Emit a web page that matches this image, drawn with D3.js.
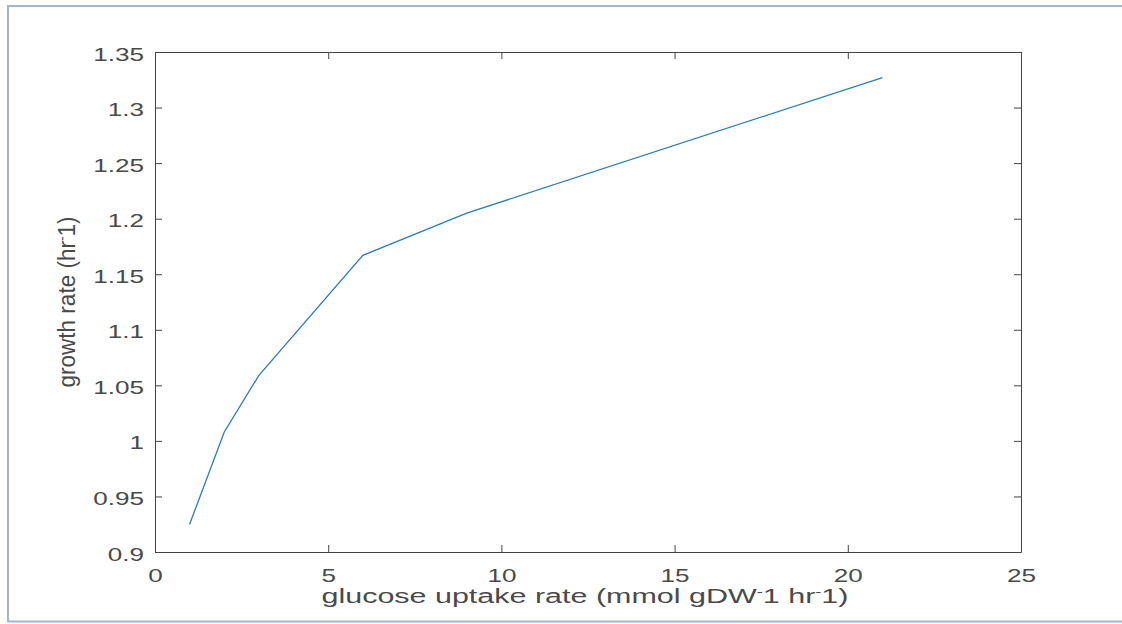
<!DOCTYPE html>
<html>
<head>
<meta charset="utf-8">
<script src="https://cdn.jsdelivr.net/npm/d3@7"></script>
<style>
  body { margin: 0; background: #fff; }
  svg { display: block; font-family: "Liberation Sans", Arial, sans-serif; }
</style>
</head>
<body>
<svg id="chart"></svg>
<script>
// glucose uptake vs growth rate
const uptake = [1, 2, 3, 6, 9, 21];
const growth = [0.925, 1.008, 1.059, 1.167, 1.205, 1.327];
const xTicks = [0, 5, 10, 15, 20, 25];
const yTicks = [0.9, 0.95, 1, 1.05, 1.1, 1.15, 1.2, 1.25, 1.3, 1.35];

const width = 1122, height = 624;
const margin = { left: 155, right: 101, top: 52, bottom: 72 };
const stretch = 1.45; // the picture is wide, text looks stretched

const svg = d3.select('#chart')
    .attr('width', width)
    .attr('height', height);

// frame around the figure
svg.append('path')
    .attr('d', 'M1122,6 H8 V621.5 H1122')
    .attr('fill', 'none')
    .attr('stroke', '#a9b4cc')
    .attr('stroke-width', 2);

let x = d3.scaleLinear().domain([0, 25]).range([margin.left, width - margin.right]);
let y = d3.scaleLinear().domain([0.9, 1.35]).range([height - margin.bottom, margin.top]);

const axisColor = '#444';

function styleAxis(g) {
  g.select('.domain').attr('stroke', axisColor);
  g.selectAll('.tick line').attr('stroke', axisColor);
  g.selectAll('.tick text').attr('fill', '#4a4a4a').attr('font-size', 18);
}

// bottom
let gx = svg.append('g')
    .attr('transform', 'translate(0,' + y.range()[0] + ')')
    .call(d3.axisBottom(x).tickValues(xTicks).tickFormat(d3.format('d'))
        .tickSizeInner(-7).tickSizeOuter(0));
styleAxis(gx);
gx.selectAll('.tick text')
    .attr('y', 30).attr('dy', null)
    .attr('transform', 'scale(' + stretch + ',1)');

// left
let gy = svg.append('g')
    .attr('transform', 'translate(' + x.range()[0] + ',0)')
    .call(d3.axisLeft(y).tickValues(yTicks).tickFormat(d => d3.format('')(+d.toFixed(2)))
        .tickSizeInner(-7).tickSizeOuter(0));
styleAxis(gy);
gy.selectAll('.tick text')
    .attr('x', -11 / stretch)
    .attr('dy', '0.45em')
    .attr('transform', 'scale(' + stretch + ',1)');

// top and right, ticks only
let gt = svg.append('g')
    .attr('transform', 'translate(0,' + y.range()[1] + ')')
    .call(d3.axisTop(x).tickValues(xTicks).tickFormat('')
        .tickSizeInner(-7).tickSizeOuter(0));
styleAxis(gt);
let gr = svg.append('g')
    .attr('transform', 'translate(' + x.range()[1] + ',0)')
    .call(d3.axisRight(y).tickValues(yTicks).tickFormat('')
        .tickSizeInner(-7).tickSizeOuter(0));
styleAxis(gr);

// the curve
let line = d3.line()
    .x((d, i) => x(uptake[i]))
    .y(d => y(d));

svg.append('path')
    .datum(growth)
    .attr('d', line)
    .attr('fill', 'none')
    .attr('stroke', '#2a7db2')
    .attr('stroke-width', 1.3);

// axis labels
let xl = svg.append('text')
    .attr('x', 585).attr('y', 603)
    .attr('text-anchor', 'middle')
    .attr('font-size', 20)
    .attr('fill', '#4a4a4a')
    .attr('textLength', 527)
    .attr('lengthAdjust', 'spacingAndGlyphs');
xl.append('tspan').text('glucose uptake rate (mmol gDW');
xl.append('tspan').attr('dy', -7).attr('font-size', 12).text('-');
xl.append('tspan').attr('dy', 7).text('1 hr');
xl.append('tspan').attr('dy', -7).attr('font-size', 12).text('-');
xl.append('tspan').attr('dy', 7).text('1)');

let yl = svg.append('text')
    .attr('transform', 'translate(75,302) rotate(-90) scale(1,1.15)')
    .attr('text-anchor', 'middle')
    .attr('font-size', 20)
    .attr('fill', '#4a4a4a')
    .attr('textLength', 171)
    .attr('lengthAdjust', 'spacingAndGlyphs');
yl.append('tspan').text('growth rate (hr');
yl.append('tspan').attr('dy', -7).attr('font-size', 12).text('-');
yl.append('tspan').attr('dy', 7).text('1)');
</script>
</body>
</html>
